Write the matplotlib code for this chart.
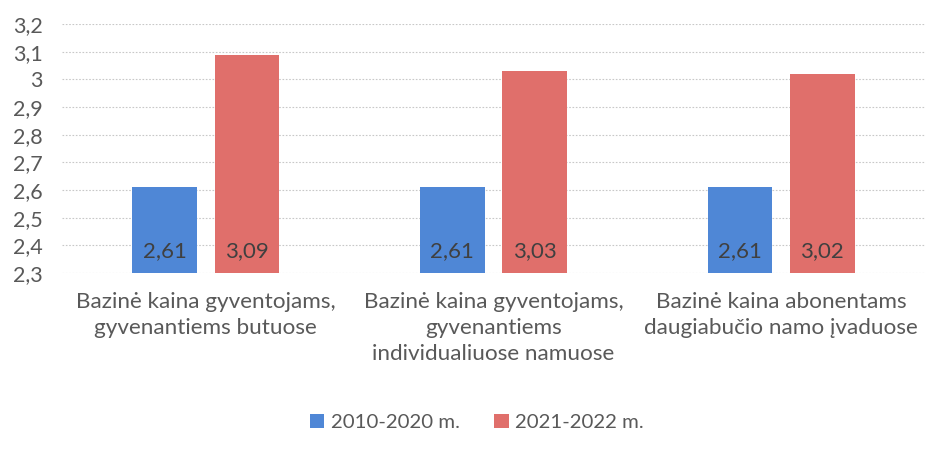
import matplotlib
matplotlib.use("Agg")
import matplotlib.pyplot as plt
import numpy as np
from matplotlib.ticker import FuncFormatter

plt.rcParams['font.family'] = ['Lato', 'DejaVu Sans']

categories = ["Bazinė kaina gyventojams,\ngyvenantiems butuose",
              "Bazinė kaina gyventojams,\ngyvenantiems\nindividualiuose namuose",
              "Bazinė kaina abonentams\ndaugiabučio namo įvaduose"]
series_names = ["2010-2020 m.", "2021-2022 m."]
values_2010 = [2.61, 2.61, 2.61]
values_2021 = [3.09, 3.03, 3.02]
yticks = [2.3, 2.4, 2.5, 2.6, 2.7, 2.8, 2.9, 3.0, 3.1, 3.2]

blue = "#4f87d6"
red = "#e06f6b"
txt = "#595959"

fig = plt.figure(figsize=(9.44, 4.55), dpi=100)
ax = fig.add_axes([0.0657, 0.4, 0.914, 0.547])
x = np.arange(len(categories))
w = 0.225
off = 0.143
b1 = ax.bar(x - off, values_2010, w, color=blue, label=series_names[0], zorder=2)
b2 = ax.bar(x + off, values_2021, w, color=red, label=series_names[1], zorder=2)
ax.set_ylim(2.3, 3.2)
ax.set_xlim(-0.5, 2.5)
ax.set_yticks(yticks)
ax.yaxis.set_major_formatter(FuncFormatter(lambda v, p: ("%g" % round(v, 1)).replace('.', ',')))
ax.set_xticks(x)
ax.set_xticklabels(categories, fontsize=16.2, color=txt, linespacing=1.36)
ax.tick_params(axis='both', length=0, colors=txt)
ax.tick_params(axis='x', pad=14)
ax.tick_params(axis='y', pad=14, labelsize=15.5)
for s in ax.spines.values():
    s.set_visible(False)
ax.grid(axis='y', color='#c8c8c8', linestyle=(0, (1.5, 1.5)), linewidth=0.8, zorder=0)

for bars, vals in ((b1, values_2010), (b2, values_2021)):
    for r, v in zip(bars, vals):
        ax.text(r.get_x() + r.get_width() / 2, 2.38, ("%.2f" % v).replace('.', ','),
                ha='center', va='center', fontsize=16, color="#404040", zorder=3)

fig.legend(handles=[b1, b2], labels=series_names, loc='center', bbox_to_anchor=(0.505, 0.072),
           ncol=2, frameon=False, fontsize=14.7, labelcolor=txt, handlelength=0.72,
           handleheight=0.72, handletextpad=0.3, columnspacing=1.7)
fig.savefig("out.png", dpi=100)
